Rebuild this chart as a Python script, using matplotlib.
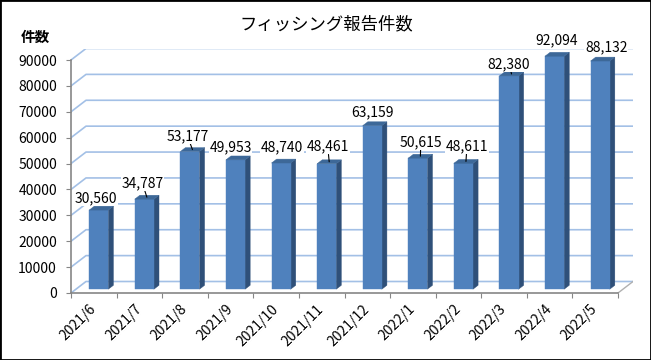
import numpy as np
import matplotlib
matplotlib.use('Agg')
from matplotlib import pyplot as plt
from matplotlib.patches import Polygon, Rectangle

plt.rcParams['font.family'] = ['Noto Sans CJK JP', 'DejaVu Sans']

# data
months = ['2021/6', '2021/7', '2021/8', '2021/9', '2021/10', '2021/11',
          '2021/12', '2022/1', '2022/2', '2022/3', '2022/4', '2022/5']
counts = [30560, 34787, 53177, 49953, 48740, 48461,
          63159, 50615, 48611, 82380, 92094, 88132]
yticks = list(range(0, 90001, 10000))

# layout (pixels of the 651x360 image)
W, H = 651, 360
X0, Y0 = 71, 293          # front-left corner of the floor
PX_CAT = 547 / 12         # pixels per category
PX_VAL = 233 / 90000      # pixels per count
DX_PX, DY_PX = 15, 11.5   # depth offset of the back wall
YMAX = 90000

DX = DX_PX / PX_CAT
DY = DY_PX / PX_VAL

grid_c = '#a3c0e6'
axis_c = '#868686'
front_c, side_c, top_c = '#4f81bd', '#2f5079', '#3d6898'

fig = plt.figure(figsize=(W / 100, H / 100), dpi=100)
ax = fig.add_axes([X0 / W, (H - Y0) / H,
                   (12 * PX_CAT + DX_PX) / W, (YMAX * PX_VAL + DY_PX) / H])
ax.set_xlim(0, 12 + DX)
ax.set_ylim(0, YMAX + DY)
ax.patch.set_alpha(0)


def pt(x, y, d):
    return (x + d * DX, y + d * DY)


# walls / gridlines
for y in yticks:
    xs, ys = zip(pt(0, y, 0), pt(0, y, 1), pt(12, y, 1))
    ax.plot(xs, ys, color=grid_c, lw=1.2, zorder=1, solid_capstyle='butt')
xs, ys = zip(pt(12, 0, 0), pt(12, 0, 1))
ax.plot(xs, ys, color='#b0b0b0', lw=1, zorder=1)

# spines and ticks
for s in ['top', 'right']:
    ax.spines[s].set_visible(False)
for s in ['left', 'bottom']:
    ax.spines[s].set_color(axis_c)
    ax.spines[s].set_linewidth(1.2)
ax.spines['left'].set_bounds(0, YMAX)
ax.spines['bottom'].set_bounds(0, 12)

ax.set_yticks(yticks)
ax.set_yticklabels([str(v) for v in yticks])
ax.tick_params(axis='y', length=3.6, color=axis_c, pad=6.5, labelsize=10)

ax.set_xticks(range(13))
ax.set_xticklabels([])
ax.tick_params(axis='x', which='major', length=3.6, color=axis_c)
ax.set_xticks(np.arange(12) + 0.5, minor=True)
ax.set_xticklabels(months, minor=True)
ax.tick_params(axis='x', which='minor', length=0, pad=10, labelsize=10)
for lab in ax.get_xticklabels(minor=True):
    lab.set_rotation(45)
    lab.set_ha('right')
    lab.set_va('center')
    lab.set_rotation_mode('anchor')

# 3d bars (Excel clips bars at the axis maximum)
bw = 0.42
d0, d1 = 0.33, 0.67
heights = np.minimum(counts, YMAX)
for i, h in enumerate(heights):
    x0 = i + 0.5 - bw / 2
    x1 = x0 + bw
    front = [pt(x0, 0, d0), pt(x1, 0, d0), pt(x1, h, d0), pt(x0, h, d0)]
    side = [pt(x1, 0, d0), pt(x1, 0, d1), pt(x1, h, d1), pt(x1, h, d0)]
    top = [pt(x0, h, d0), pt(x1, h, d0), pt(x1, h, d1), pt(x0, h, d1)]
    for poly, c in [(side, side_c), (front, front_c), (top, top_c)]:
        ax.add_patch(Polygon(poly, closed=True, fc=c, ec=c, lw=0.3, zorder=3))

# data labels
offsets = [(-5.5, 10), (-4.5, 14), (-5, 13.5), (-7.5, 11), (-1.5, 14), (-1.5, 15),
           (-2.5, 11), (0.5, 14), (1, 15), (-2.5, 10), (-0.5, 14), (3.5, 12)]
leaders = [1, 2, 5, 7, 8, 9]
for i, (v, h) in enumerate(zip(counts, heights)):
    arrow = None
    if i in leaders:
        arrow = dict(arrowstyle='-', color='black', lw=0.8, shrinkA=0, shrinkB=0)
    ax.annotate(f'{v:,}', xy=pt(i + 0.5, h, 0.5), xytext=offsets[i],
                textcoords='offset pixels', ha='center', va='center',
                fontsize=10, zorder=5, annotation_clip=False,
                bbox=dict(boxstyle='square,pad=0.05', fc='white', ec='none'),
                arrowprops=arrow)

fig.text(326 / W, 1 - 24 / H, 'フィッシング報告件数', ha='center', va='center',
         fontsize=12.5)
fig.text(35 / W, 1 - 37 / H, '件数', ha='center', va='center',
         fontsize=10.5, fontweight='bold')

fig.add_artist(Rectangle((0, 0), 1, 1, transform=fig.transFigure, fill=False,
                         ec='black', lw=2))

fig.savefig('out.png', dpi=100)
